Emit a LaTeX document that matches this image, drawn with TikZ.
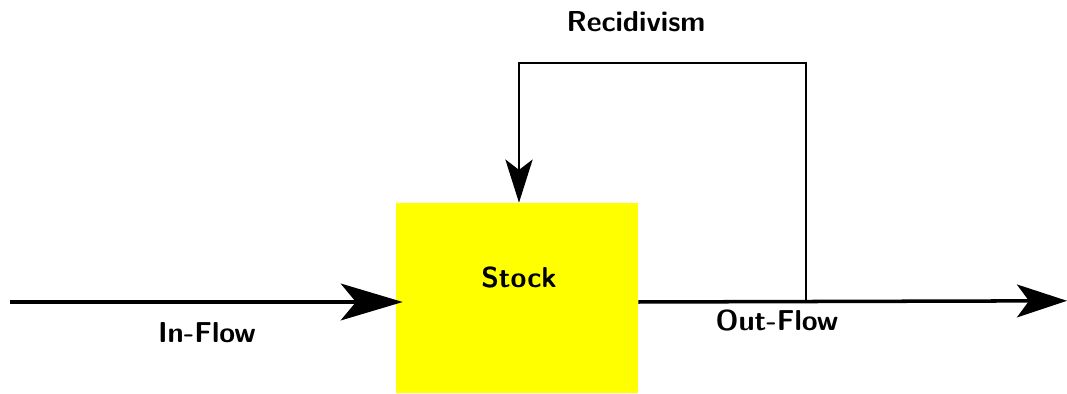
\documentclass[tikz,border=0pt]{standalone}
\usepackage{tikz}
\usetikzlibrary{arrows.meta}
\definecolor{stockyellow}{RGB}{255,255,0}

\begin{document}
\begin{tikzpicture}
  \useasboundingbox (0,0) rectangle (26.675,9.85);

  \tikzset{flow arc/.style={-{Stealth[length=1.55cm,width=0.92cm,inset=0.38cm]}, black, line width=2.5pt},
           out arc/.style={-{Stealth[length=1.25cm,width=0.82cm,inset=0.3cm]}, black, line width=2.5pt},
           loop arc/.style={-{Stealth[length=1.08cm,width=0.68cm,inset=0.26cm]}, black, line width=1.7pt},
           word/.style={font=\fontsize{20.5}{24}\selectfont\sffamily\bfseries}}

  \node (stock) at (12.925,2.4) [fill=stockyellow, minimum width=6.05cm, minimum height=4.75cm] {};

  \begin{scope}[every node/.style={word}]
      \node (stocktext) at (12.975,2.9) {Stock};
      \node (inflow) at (5.175,1.525) {In-Flow};
      \node (outflow) at (19.425,1.825) {Out-Flow};
      \node (recid) at (15.9,9.3) {Recidivism};
  \end{scope}

  \coordinate (source) at (0.25,2.3);
  \coordinate (sink) at (26.675,2.33);
  \coordinate (tap) at (20.15,2.31);
  \coordinate (loop) at (20.15,8.275);

  \draw[flow arc, shorten >=-5pt] (source) -- (stock.west |- source);
  \draw[out arc] (stock.east |- source) -- (sink);
  \draw[loop arc] (tap) -- (loop) -| ([xshift=0.05cm]stock.north);

\end{tikzpicture}
\end{document}
